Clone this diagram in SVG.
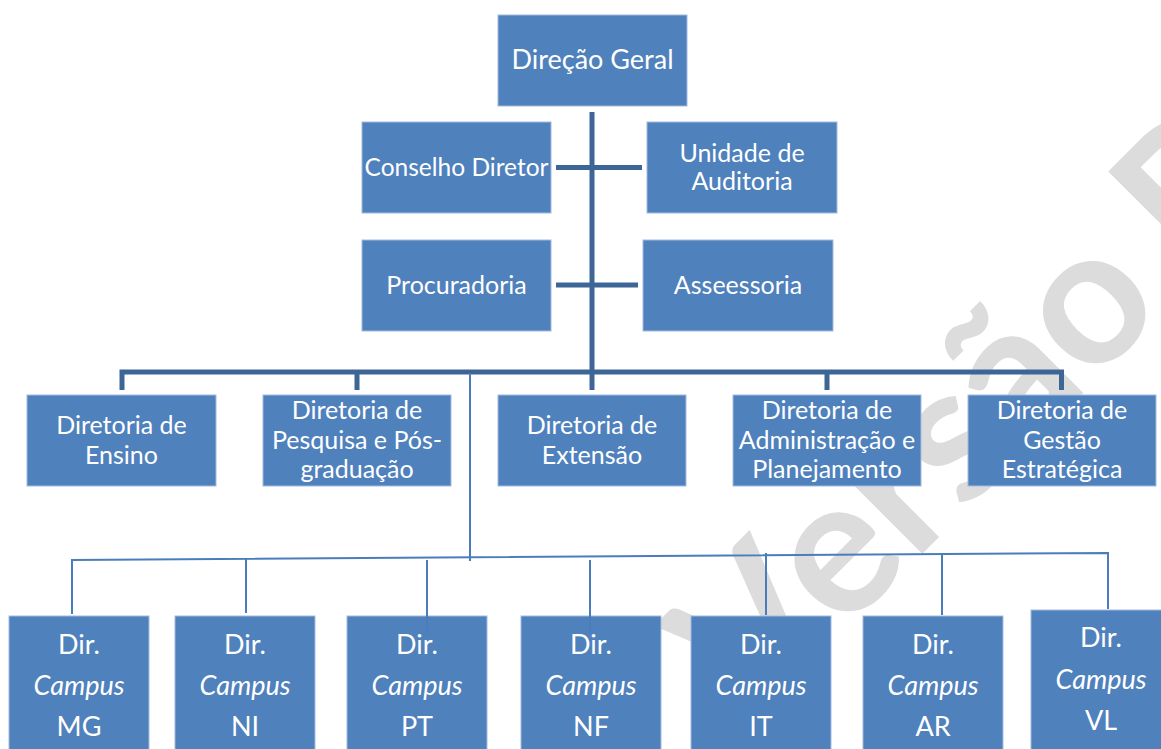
<svg xmlns="http://www.w3.org/2000/svg" width="1161" height="749" viewBox="0 0 1161 749">
<style>
.box{fill:#4f81bd;stroke:#a3bcdd;stroke-width:1}
.t{font-family:Lato,"Open Sans",sans-serif;font-size:25px;fill:#ffffff;text-anchor:middle}
.big{font-size:27px}
.c{font-size:27px}
.i{font-style:italic}
.thick{stroke:#3d6596;stroke-width:5;fill:none;stroke-linejoin:miter;stroke-linecap:butt}
.thin{stroke:#4a7ebb;stroke-width:2;fill:none}
.wm{font-family:Lato,"Open Sans",sans-serif;font-size:192px;font-weight:bold;fill:#dcdcdc;text-anchor:middle}
</style>
<rect x="0" y="0" width="1161" height="749" fill="#ffffff"/>
<g id="watermark" transform="translate(800,676) rotate(-45)">
<text class="wm" x="0 110.4 197.2 273.1 362.3 465.4 540 618.7 707.5 794.3 868.8 915.7 1021.1 1126.5 1203.8 1306.7 1391.5" y="0">Versão Preliminar</text>
</g>
<g id="n-direcao-geral"><rect class="box" x="498" y="15" width="189" height="91"/><text class="t big" x="592.5" y="69">Direção Geral</text></g>
<g id="n-conselho"><rect class="box" x="362" y="122" width="189" height="91"/><text class="t" x="456.5" y="176" style="font-size:24.5px">Conselho Diretor</text></g>
<g id="n-auditoria"><rect class="box" x="647" y="122" width="190" height="91"/><text class="t" x="742" y="162">Unidade de</text><text class="t" x="742" y="190">Auditoria</text></g>
<g id="n-procuradoria"><rect class="box" x="362" y="240" width="189" height="91"/><text class="t" x="456.5" y="294">Procuradoria</text></g>
<g id="n-asseessoria"><rect class="box" x="643" y="240" width="190" height="91"/><text class="t" x="738" y="294">Asseessoria</text></g>
<g id="n-ensino"><rect class="box" x="27" y="395" width="189" height="91"/><text class="t" x="121.5" y="434">Diretoria de</text><text class="t" x="121.5" y="463.5">Ensino</text></g>
<g id="n-pesquisa"><rect class="box" x="263" y="395" width="188" height="91"/><text class="t" x="357" y="419.3">Diretoria de</text><text class="t" x="357" y="448.5">Pesquisa e Pós-</text><text class="t" x="357" y="477.7">graduação</text></g>
<g id="n-extensao"><rect class="box" x="498" y="395" width="188" height="91"/><text class="t" x="592" y="434">Diretoria de</text><text class="t" x="592" y="463.5">Extensão</text></g>
<g id="n-administracao"><rect class="box" x="733" y="395" width="188" height="91"/><text class="t" x="827" y="419.3">Diretoria de</text><text class="t" x="827" y="448.5">Administração e</text><text class="t" x="827" y="477.7">Planejamento</text></g>
<g id="n-gestao"><rect class="box" x="968" y="395" width="188" height="91"/><text class="t" x="1062" y="419.3">Diretoria de</text><text class="t" x="1062" y="448.5">Gestão</text><text class="t" x="1062" y="477.7">Estratégica</text></g>
<g id="n-campus-mg"><rect class="box" x="9" y="616" width="140" height="140"/><text class="t c" x="79" y="654">Dir.</text><text class="t c i" x="79" y="695">Campus</text><text class="t c" x="79" y="736">MG</text></g>
<g id="n-campus-ni"><rect class="box" x="175" y="616" width="140" height="140"/><text class="t c" x="245" y="654">Dir.</text><text class="t c i" x="245" y="695">Campus</text><text class="t c" x="245" y="736">NI</text></g>
<g id="n-campus-pt"><rect class="box" x="347" y="616" width="140" height="140"/><text class="t c" x="417" y="654">Dir.</text><text class="t c i" x="417" y="695">Campus</text><text class="t c" x="417" y="736">PT</text></g>
<g id="n-campus-nf"><rect class="box" x="521" y="616" width="140" height="140"/><text class="t c" x="591" y="654">Dir.</text><text class="t c i" x="591" y="695">Campus</text><text class="t c" x="591" y="736">NF</text></g>
<g id="n-campus-it"><rect class="box" x="691" y="616" width="140" height="140"/><text class="t c" x="761" y="654">Dir.</text><text class="t c i" x="761" y="695">Campus</text><text class="t c" x="761" y="736">IT</text></g>
<g id="n-campus-ar"><rect class="box" x="863" y="616" width="140" height="140"/><text class="t c" x="933" y="654">Dir.</text><text class="t c i" x="933" y="695">Campus</text><text class="t c" x="933" y="736">AR</text></g>
<g id="n-campus-vl"><rect class="box" x="1031" y="610" width="141" height="146"/><text class="t c" x="1101" y="647">Dir.</text><text class="t c i" x="1101" y="689">Campus</text><text class="t c" x="1101" y="730">VL</text></g>
<g id="connectors">
<line class="thick" x1="592" y1="112" x2="592" y2="373"/>
<line class="thick" x1="556" y1="167.5" x2="642" y2="167.5"/>
<line class="thick" x1="556" y1="285" x2="638" y2="285"/>
<polyline class="thick" points="122,390 122,372 1061.5,372 1061.5,390"/>
<line class="thick" x1="357" y1="372" x2="357" y2="390"/>
<line class="thick" x1="827" y1="372" x2="827" y2="390"/>
<line class="thick" x1="592" y1="372" x2="592" y2="390"/>
<line class="thin" x1="470" y1="373" x2="470" y2="561"/>
<polyline class="thin" points="72,614 72,560 1108,553 1108,609"/>
<line class="thin" x1="246" y1="559" x2="246" y2="613"/>
<line class="thin" x1="427" y1="560" x2="427" y2="634"/>
<line class="thin" x1="590" y1="560" x2="590" y2="634"/>
<line class="thin" x1="766" y1="553" x2="766" y2="615"/>
<line class="thin" x1="942" y1="553" x2="942" y2="615"/>
</g>
</svg>
